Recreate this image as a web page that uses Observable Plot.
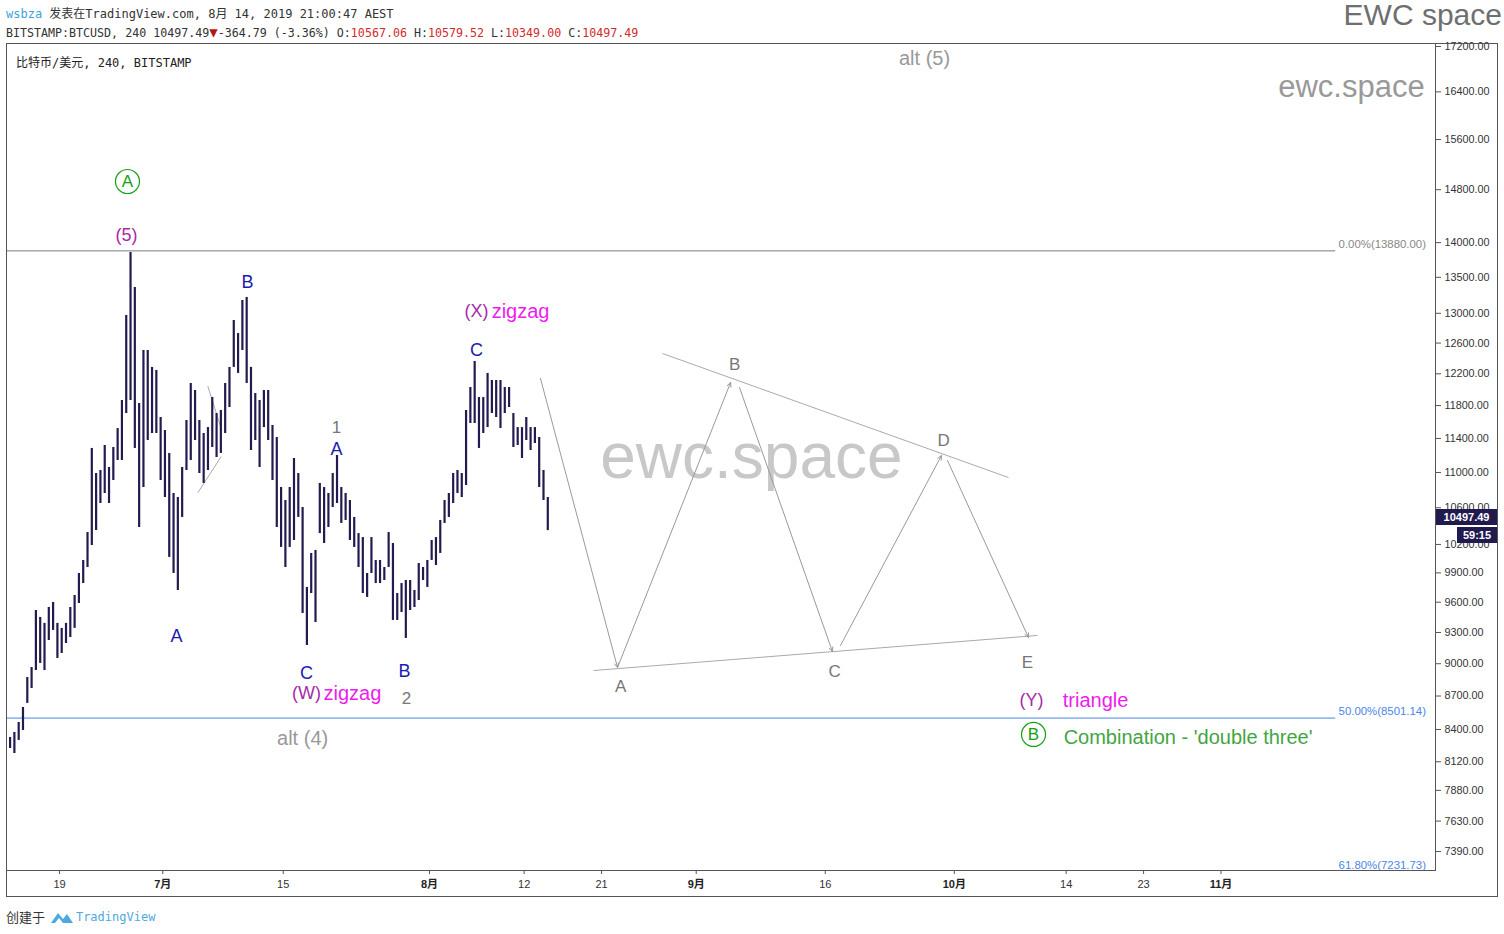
<!DOCTYPE html>
<html><head><meta charset="utf-8">
<script src="https://cdn.jsdelivr.net/npm/d3@7"></script>
<script src="https://cdn.jsdelivr.net/npm/@observablehq/plot@0.6"></script>
<style>
body{margin:0;background:#fff;width:1504px;height:934px;position:relative;overflow:hidden;font-family:"Liberation Sans",sans-serif}
.mono{font-family:"DejaVu Sans Mono","Noto Sans CJK SC",monospace}
#hdr1{position:absolute;left:6px;top:7px;font-size:12px;line-height:15px;color:#333;white-space:nowrap}
#hdr2{position:absolute;left:6px;top:25px;font-size:11.65px;line-height:15px;color:#333;white-space:nowrap}
.red{color:#d32a2a}
.tri{color:#b01818;font-size:14px}
#brand{position:absolute;right:2px;top:0px;font-size:30px;line-height:30px;color:#6f6f6f;white-space:nowrap}
#chart{position:absolute;left:0;top:43px}
#border{position:absolute;left:6px;top:43px;width:1492px;height:854px;border:1px solid #555;box-sizing:border-box;pointer-events:none}
#legend{position:absolute;left:16px;top:53px;font-size:12px;color:#222;white-space:nowrap}
#footer{position:absolute;left:6px;top:907px;font-size:13px;color:#333;white-space:nowrap;font-family:"Noto Sans CJK SC",sans-serif;display:flex;align-items:center}
#footer .tv{font-family:"DejaVu Sans Mono",monospace;font-size:12px;color:#4fa9e0}
.pbox{position:absolute;background:#211a4f;color:#fff;font-weight:bold;font-size:11px;text-align:center;font-family:"Liberation Sans",sans-serif;line-height:16px;height:16px}
</style></head>
<body>
<div id="hdr1" class="mono"><span style="color:#3ba3dc">wsbza</span> 发表在TradingView.com, 8月 14, 2019 21:00:47 AEST</div>
<div id="hdr2" class="mono">BITSTAMP:BTCUSD, 240 10497.49<span class="tri">▼</span>-364.79 (-3.36%) O:<span class="red">10567.06</span> H:<span class="red">10579.52</span> L:<span class="red">10349.00</span> C:<span class="red">10497.49</span></div>
<div id="brand">EWC space</div>
<div id="chart"></div>
<div id="border"></div>
<div id="legend" class="mono">比特币/美元, 240, BITSTAMP</div>
<div id="footer">创建于&nbsp;<svg width="24" height="14" viewBox="0 0 24 14" style="margin:0 2px"><path d="M1 13 L8 3 L13 9 L17 4 L23 13 Z" fill="#4fa9e0"/><path d="M5 13 L9 8 L13 13 Z" fill="#fff"/></svg><span class="tv">TradingView</span></div>
<script>
// ---- data ----
const barStart = Date.UTC(2019, 5, 13, 6); // 12h bars
const barHigh = [
 8330, 8374, 8462, 8596, 8871, 8964, 9517, 9448, 9389, 9547,
 9597, 9389, 9340, 9389, 9547, 9668, 9894, 10030, 10328, 11281,
 10988, 11023, 11316, 11058, 11292, 11519, 11863, 12970, 13856, 13357,
 11826, 12502, 12502, 12282, 12243, 11653, 11495, 11222, 10760, 10715,
 11058, 11617, 12077, 11988, 11617, 11459, 11531, 11900, 11702, 11739,
 12077, 12282, 12902, 12727, 13176, 13218, 12282, 11950, 11863, 11988,
 11988, 11556, 11411, 10828, 10681, 10828, 11163, 10988, 10603, 9750,
 10104, 10136, 10874, 10828, 10760, 10988, 11198, 10828, 10760, 10681,
 10493, 10317, 10274, 9894, 10274, 10030, 10030, 9956, 10328, 10210,
 9688, 9790, 9821, 9821, 9719, 9998, 9956, 10030, 10242, 10274,
 10460, 10681, 10760, 10988, 11023, 10988, 11739, 12026, 12359, 11900,
 11900, 12205, 12115, 12115, 12115, 12026, 12026, 11702, 11531, 11531,
 11653, 11531, 11531, 11411, 11023, 10715
];
const barLow = [
 8234, 8191, 8304, 8391, 8633, 8769, 8936, 9003, 8936, 9222,
 9320, 9050, 9097, 9193, 9251, 9340, 9587, 9790, 9956, 10189,
 10350, 10648, 10760, 10648, 10908, 11139, 11139, 11702, 11863, 11281,
 10383, 10828, 11375, 11459, 11459, 10908, 10715, 10062, 9894, 9719,
 10493, 11023, 11139, 11375, 10988, 10874, 11023, 11292, 11174, 11222,
 11459, 11776, 12282, 12205, 12502, 12077, 11257, 11375, 11058, 11531,
 11375, 10908, 10383, 10168, 9956, 10168, 10242, 10493, 9487, 9174,
 9688, 9398, 10317, 10210, 10383, 10603, 10648, 10427, 10460, 10242,
 10168, 9956, 9688, 9648, 9894, 9790, 9790, 9821, 9956, 9418,
 9418, 9497, 9242, 9517, 9547, 9617, 9821, 9750, 10030, 9977,
 10104, 10427, 10493, 10648, 10760, 10715, 10851, 11580, 11580, 11281,
 11459, 11531, 11702, 11653, 11519, 11702, 11776, 11292, 11316, 11163,
 11375, 11257, 11340, 10828, 10681, 10349
];
const lastClose = 10497.49;
const countdown = "59:15";

const yTicks = [17200,16400,15600,14800,14000,13500,13000,12600,12200,11800,11400,11000,10600,10200,9900,9600,9300,9000,8700,8400,8120,7880,7630,7390];
const dayTicks = ["2019-06-19","2019-07-15","2019-08-12","2019-08-21","2019-09-16","2019-10-14","2019-10-23"];
const monthTicks = ["2019-07-01","2019-08-01","2019-09-01","2019-10-01","2019-11-01"];

const fibLevels = [
 {pct: "0.00%", value: 13880.00},
 {pct: "50.00%", value: 8501.14},
 {pct: "61.80%", value: 7231.73}
];
const fibEnd = "2019-11-14T08:00Z";
const fibLabelAt = "2019-11-14T16:00Z";

const blueLabels = [
 ["2019-07-10T20:00Z", 13427, "B"],
 ["2019-07-02T14:00Z", 9261, "A"],
 ["2019-07-17T17:00Z", 8908, "C"],
 ["2019-07-21T04:30Z", 11270, "A"],
 ["2019-07-29T02:00Z", 8927, "B"],
 ["2019-08-06T11:00Z", 12502, "C"]
];
const purpleLabels = [
 ["2019-06-26T19:00Z", 14106, "(5)"],
 ["2019-07-17T17:00Z", 8723, "(W)"],
 ["2019-08-06T11:00Z", 13025, "(X)"],
 ["2019-10-09T23:30Z", 8660, "(Y)"]
];
const magentaLabels = [
 ["2019-07-23T01:00Z", 8723, "zigzag"],
 ["2019-08-11T14:00Z", 13025, "zigzag"],
 ["2019-10-17T10:00Z", 8660, "triangle"]
];
const grayNumbers = [
 ["2019-07-21T04:30Z", 11530, "1"],
 ["2019-07-29T08:00Z", 8677, "2"]
];
const altLabels = [
 ["2019-09-27T13:00Z", 16985, "alt (5)"],
 ["2019-07-17T06:00Z", 8321, "alt (4)"]
];
const circledLabels = [
 ["2019-06-26T21:30Z", 14928, "A"],
 ["2019-10-10T05:00Z", 8356, "B"]
];
const comboNote = [["2019-10-13T17:00Z", 8330, "Combination - 'double three'"]];
const triangleLetters = [
 ["2019-08-23T05:00Z", 8787, "A"],
 ["2019-09-05T11:00Z", 12320, "B"],
 ["2019-09-17T02:00Z", 8927, "C"],
 ["2019-09-29T18:00Z", 11376, "D"],
 ["2019-10-09T12:00Z", 9012, "E"]
];
const trianglePath = [
 ["2019-08-13T21:30Z", 12141, "2019-08-22T20:30Z", 8964],
 ["2019-08-22T20:30Z", 8964, "2019-09-05T00:00Z", 12090],
 ["2019-09-06T00:45Z", 12026, "2019-09-16T20:00Z", 9116],
 ["2019-09-17T18:30Z", 9174, "2019-09-29T12:15Z", 11198],
 ["2019-09-30T05:00Z", 11139, "2019-10-09T15:00Z", 9251]
];
const triangleBounds = [
 ["2019-08-28T02:00Z", 12463, "2019-10-07T07:00Z", 10942],
 ["2019-08-20T01:30Z", 8936, "2019-10-10T16:00Z", 9271]
];
const wedgeLines = [
 ["2019-07-06T05:30Z", 12043, "2019-07-07T20:30Z", 11495],
 ["2019-07-05T01:40Z", 10768, "2019-07-07T19:00Z", 11186]
];
const watermark = [["2019-09-07T10:00Z", 11174, "ewc.space"]];
const siteMark = [["2019-11-24T16:00Z", 16476, "ewc.space"]];

// ---- build ----
const D = s => new Date(s);
const bars = barHigh.map((h, i) => ({t: new Date(barStart + i * 12 * 3600e3), high: h, low: barLow[i]}));
const xDomain = [D("2019-06-12T20:00Z"), D("2019-11-25T22:20Z")];
const sans = "Liberation Sans, Noto Sans CJK SC, sans-serif";
const lbl = (data, o) => Plot.text(data, {x: d => D(d[0]), y: d => d[1], text: d => d[2], fontFamily: sans, ...o});

const chart = Plot.plot({
  width: 1504, height: 854,
  marginLeft: 6, marginRight: 69, marginTop: 0, marginBottom: 27,
  style: {fontFamily: sans, fontSize: "11px", color: "#333", background: "transparent", overflow: "visible"},
  x: {type: "utc", domain: xDomain},
  y: {type: "log", domain: [7244.5, 17254]},
  marks: [
    lbl(watermark, {fontSize: 64, fill: "#c8c8c8"}),
    lbl(siteMark, {fontSize: 31, fill: "#999", textAnchor: "end"}),
    Plot.ruleY(fibLevels, {y: "value", x1: () => xDomain[0], x2: () => D(fibEnd), stroke: d => d.pct === "0.00%" ? "#7a7a7a" : "#4a86e8", strokeWidth: 1, clip: true}),
    Plot.text(fibLevels, {x: () => D(fibLabelAt), y: "value", text: d => `${d.pct}(${d.value.toFixed(2)})`, textAnchor: "start", dy: -7, fontSize: 11.4, fill: d => d.pct === "0.00%" ? "#888" : "#4a86e8"}),
    Plot.link(wedgeLines, {x1: d => D(d[0]), y1: d => d[1], x2: d => D(d[2]), y2: d => d[3], stroke: "#aaa", strokeWidth: 1}),
    Plot.link(triangleBounds, {x1: d => D(d[0]), y1: d => d[1], x2: d => D(d[2]), y2: d => d[3], stroke: "#aaa", strokeWidth: 1}),
    Plot.arrow(trianglePath, {x1: d => D(d[0]), y1: d => d[1], x2: d => D(d[2]), y2: d => d[3], stroke: "#999", strokeWidth: 1, headLength: 7, headAngle: 50, insetStart: 0, insetEnd: 0}),
    Plot.ruleX(bars, {x: "t", y1: "low", y2: "high", stroke: "#231b4f", strokeWidth: 2.2}),
    lbl(blueLabels, {fontSize: 18, fill: "#1c1cae"}),
    lbl(purpleLabels, {fontSize: 18, fill: "#a82aa8"}),
    lbl(magentaLabels, {fontSize: 20, fill: "#ee1bee"}),
    lbl(grayNumbers, {fontSize: 17, fill: "#777"}),
    lbl(altLabels, {fontSize: 20, fill: "#999"}),
    lbl(triangleLetters, {fontSize: 17, fill: "#777"}),
    Plot.dot(circledLabels, {x: d => D(d[0]), y: d => d[1], r: 12, stroke: "#14a014", strokeWidth: 1.2, fill: "none"}),
    lbl(circledLabels, {fontSize: 17, fill: "#14a014"}),
    lbl(comboNote, {fontSize: 20, fill: "#3fa63f", textAnchor: "start"}),
    Plot.frame({stroke: "#555"}),
    Plot.axisY(yTicks, {anchor: "right", tickSize: 5, tickPadding: 4, tickFormat: d => d.toFixed(2), fontSize: 10.8, fill: "#333", stroke: "#555", label: null}),
    Plot.axisX(dayTicks.map(D), {anchor: "bottom", tickSize: 4, tickPadding: 6, tickFormat: d => String(d.getUTCDate()), fontSize: 11, fill: "#333", stroke: "#555", label: null}),
    Plot.axisX(monthTicks.map(D), {anchor: "bottom", tickSize: 4, tickPadding: 6, tickFormat: d => (d.getUTCMonth() + 1) + "月", fontSize: 11, fontWeight: "bold", fill: "#222", stroke: "#555", label: null})
  ]
});
document.getElementById("chart").appendChild(chart);

// last price and countdown boxes on the price axis
const yPx = 43 + chart.scale("y").apply(lastClose);
const b1 = document.createElement("div");
b1.className = "pbox"; b1.textContent = lastClose.toFixed(2);
Object.assign(b1.style, {left: "1436px", width: "61px", top: (yPx - 8) + "px"});
document.body.appendChild(b1);
const b2 = document.createElement("div");
b2.className = "pbox"; b2.textContent = countdown;
Object.assign(b2.style, {left: "1457px", width: "40px", top: (yPx + 10) + "px"});
document.body.appendChild(b2);
</script>
</body></html>
